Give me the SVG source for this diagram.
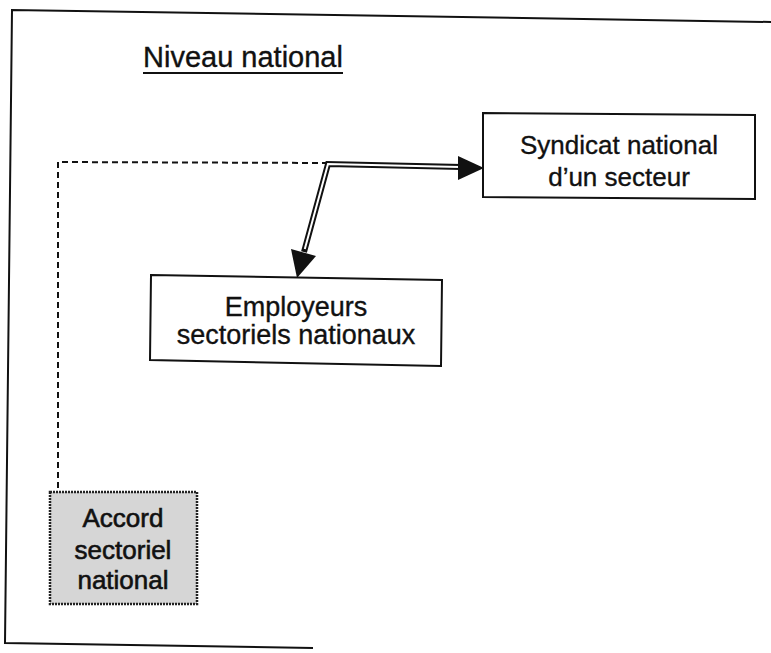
<svg xmlns="http://www.w3.org/2000/svg" width="771" height="653" viewBox="0 0 771 653">
<style>
.t{font-family:"Liberation Sans",Arial,sans-serif;fill:#111;stroke:#111;stroke-width:0.35;text-anchor:middle}
.box{fill:#fff;stroke:#111;stroke-width:2}
</style>
<rect width="771" height="653" fill="#fff"/>
<g id="frame" fill="none" stroke="#111" stroke-width="2">
<path d="M771,22 L12,10 L5,643 L313,648"/>
</g>
<g id="title">
<text class="t" x="243" y="67" font-size="29">Niveau national</text>
<line x1="143" y1="73" x2="343" y2="73" stroke="#111" stroke-width="2"/>
</g>
<g id="connectors">
<path d="M58,488 L58,162 L328,163" fill="none" stroke="#111" stroke-width="2" stroke-dasharray="6,4"/>
<path d="M462,167 L328,164 L304,252" fill="none" stroke="#111" stroke-width="6" stroke-linejoin="miter"/>
<path d="M460,166.96 L328,164 L304.8,249" fill="none" stroke="#fff" stroke-width="2" stroke-linejoin="miter"/>
<polygon points="484,168 458,156 458,180" fill="#111"/>
<polygon points="297,278 316,256 291,249" fill="#111"/>
</g>
<g id="syndicat">
<polygon class="box" points="483,113 755,115 755,199 483,197"/>
<text class="t" x="619" y="154" font-size="26">Syndicat national</text>
<text class="t" x="619" y="186" font-size="26">d’un secteur</text>
</g>
<g id="employeurs">
<polygon class="box" points="151,275 442,280 441,366 150,360"/>
<text class="t" x="296" y="316" font-size="27">Employeurs</text>
<text class="t" x="296" y="344" font-size="27">sectoriels nationaux</text>
</g>
<g id="accord">
<rect x="50" y="492" width="147" height="112" fill="#d6d6d6" stroke="#222" stroke-width="2.5" stroke-dasharray="2,1"/>
<text class="t" x="123" y="527" font-size="26" style="stroke-width:0.6">Accord</text>
<text class="t" x="123" y="559" font-size="26" style="stroke-width:0.6">sectoriel</text>
<text class="t" x="123" y="589" font-size="26" style="stroke-width:0.6">national</text>
</g>
</svg>
